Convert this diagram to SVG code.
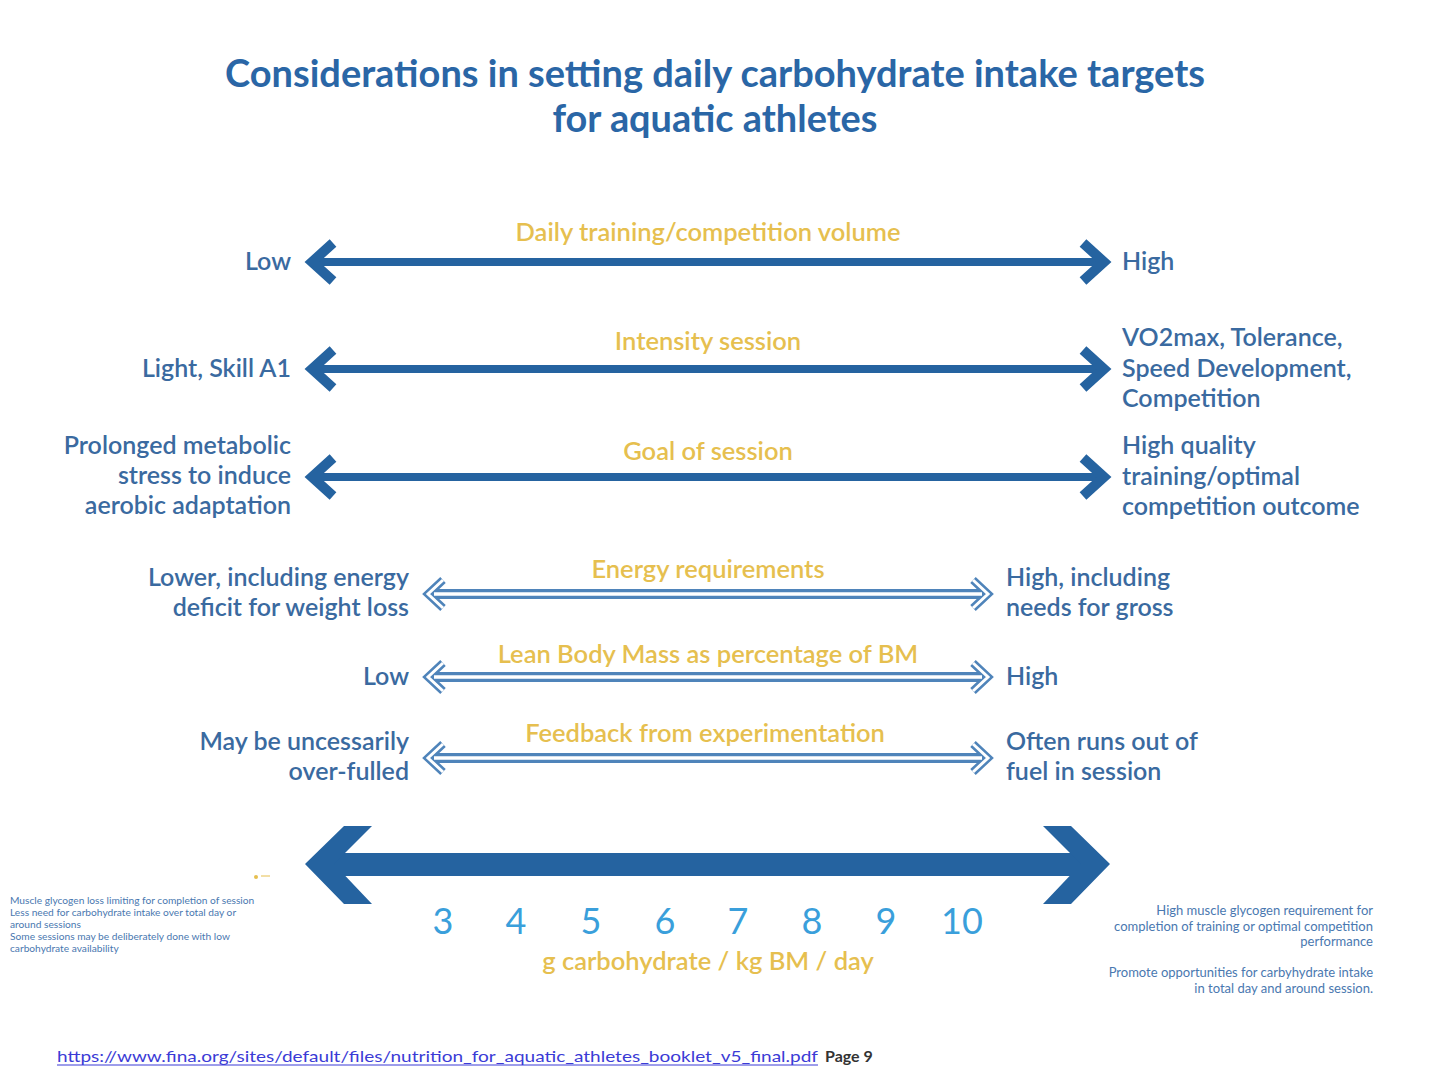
<svg xmlns="http://www.w3.org/2000/svg" width="1440" height="1088" viewBox="0 0 1440 1088">
<defs>
<style>
text{font-family:Lato,"Open Sans","Liberation Sans",sans-serif}
.title{font-size:38px;font-weight:bold;fill:#2a66a6;text-anchor:middle}
.lab{font-size:25.5px;font-weight:600;fill:#e6bf4f;text-anchor:middle}
.side{font-size:25px;font-weight:600;fill:#3a6aa0}
.l{text-anchor:end}
.num{font-size:36px;fill:#3a9fdb;text-anchor:middle}
.small{font-size:10.2px;fill:#4a78b0}
.small2{font-size:13px;fill:#4a78b0;text-anchor:end}
.solid{stroke:#2563a0;fill:none}
.hol{fill:none;stroke:#4f84ba}
.holw{fill:none;stroke:#fff}
</style>
</defs>
<rect width="1440" height="1088" fill="#fff"/>
<g id="title">
<text class="title" x="715" y="87" textLength="980" lengthAdjust="spacingAndGlyphs">Considerations in setting daily carbohydrate intake targets</text>
<text class="title" x="715" y="132" textLength="325" lengthAdjust="spacingAndGlyphs">for aquatic athletes</text>
</g>
<g id="connectors">
<g class="solid">
<line x1="314" y1="262" x2="1102" y2="262" stroke-width="8"/>
<polyline points="333,243 312,262 333,281" stroke-width="10"/>
<polyline points="1083,243 1104,262 1083,281" stroke-width="10"/>
<line x1="314" y1="369" x2="1102" y2="369" stroke-width="8"/>
<polyline points="333,350 312,369 333,388" stroke-width="10"/>
<polyline points="1083,350 1104,369 1083,388" stroke-width="10"/>
<line x1="314" y1="477" x2="1102" y2="477" stroke-width="8"/>
<polyline points="333,458 312,477 333,496" stroke-width="10"/>
<polyline points="1083,458 1104,477 1083,496" stroke-width="10"/>
</g>
<g id="hollow1">
<line class="hol" x1="432" y1="594" x2="984" y2="594" stroke-width="10"/>
<polyline class="hol" points="443,580 428,594 443,608" stroke-width="8"/>
<polyline class="hol" points="973,580 988,594 973,608" stroke-width="8"/>
<line class="holw" x1="434" y1="594" x2="982" y2="594" stroke-width="3.5"/>
<polyline class="holw" points="443,580 428,594 443,608" stroke-width="3"/>
<polyline class="holw" points="973,580 988,594 973,608" stroke-width="3"/>
</g>
<g id="hollow2">
<line class="hol" x1="432" y1="677" x2="984" y2="677" stroke-width="10"/>
<polyline class="hol" points="443,663 428,677 443,691" stroke-width="8"/>
<polyline class="hol" points="973,663 988,677 973,691" stroke-width="8"/>
<line class="holw" x1="434" y1="677" x2="982" y2="677" stroke-width="3.5"/>
<polyline class="holw" points="443,663 428,677 443,691" stroke-width="3"/>
<polyline class="holw" points="973,663 988,677 973,691" stroke-width="3"/>
</g>
<g id="hollow3">
<line class="hol" x1="432" y1="758" x2="984" y2="758" stroke-width="10"/>
<polyline class="hol" points="443,744 428,758 443,772" stroke-width="8"/>
<polyline class="hol" points="973,744 988,758 973,772" stroke-width="8"/>
<line class="holw" x1="434" y1="758" x2="982" y2="758" stroke-width="3.5"/>
<polyline class="holw" points="443,744 428,758 443,772" stroke-width="3"/>
<polyline class="holw" points="973,744 988,758 973,772" stroke-width="3"/>
</g>
<g id="bigarrow" fill="#2563a0">
<rect x="322" y="853" width="772" height="23"/>
<polygon points="305,864 344,826 372,826 334,864 372,904 344,904"/>
<polygon points="1110,864 1071,826 1043,826 1081,864 1043,904 1071,904"/>
</g>
</g>
<g id="labels">
<text class="lab" x="708" y="241">Daily training/competition volume</text>
<text class="lab" x="708" y="350">Intensity session</text>
<text class="lab" x="708" y="460">Goal of session</text>
<text class="lab" x="708" y="578">Energy requirements</text>
<text class="lab" x="708" y="663">Lean Body Mass as percentage of BM</text>
<text class="lab" x="705" y="742">Feedback from experimentation</text>
</g>
<g id="left-labels">
<text class="side l" x="291" y="270">Low</text>
<text class="side l" x="291" y="377">Light, Skill A1</text>
<text class="side l" x="291" y="454">Prolonged metabolic</text>
<text class="side l" x="291" y="484">stress to induce</text>
<text class="side l" x="291" y="514">aerobic adaptation</text>
<text class="side l" x="409" y="586">Lower, including energy</text>
<text class="side l" x="409" y="616">deficit for weight loss</text>
<text class="side l" x="409" y="685">Low</text>
<text class="side l" x="409" y="750">May be uncessarily</text>
<text class="side l" x="409" y="780">over-fulled</text>
</g>
<g id="right-labels">
<text class="side" x="1122" y="270">High</text>
<text class="side" x="1122" y="346">VO2max, Tolerance,</text>
<text class="side" x="1122" y="377">Speed Development,</text>
<text class="side" x="1122" y="407">Competition</text>
<text class="side" x="1122" y="454">High quality</text>
<text class="side" x="1122" y="485">training/optimal</text>
<text class="side" x="1122" y="515">competition outcome</text>
<text class="side" x="1006" y="586">High, including</text>
<text class="side" x="1006" y="616">needs for gross</text>
<text class="side" x="1006" y="685">High</text>
<text class="side" x="1006" y="750">Often runs out of</text>
<text class="side" x="1006" y="780">fuel in session</text>
</g>
<g id="scale">
<text class="num" x="443" y="934">3</text>
<text class="num" x="516" y="934">4</text>
<text class="num" x="591" y="934">5</text>
<text class="num" x="665" y="934">6</text>
<text class="num" x="738" y="934">7</text>
<text class="num" x="812" y="934">8</text>
<text class="num" x="886" y="934">9</text>
<text class="num" x="962" y="934">10</text>
<text class="lab" x="708" y="970">g carbohydrate / kg BM / day</text>
</g>
<g id="left-note">
<circle cx="256" cy="877" r="2" fill="#e6bf4f"/>
<line x1="261" y1="876" x2="270" y2="876" stroke="#e6bf4f" stroke-width="1"/>
<text class="small" x="10" y="904">Muscle glycogen loss limiting for completion of session</text>
<text class="small" x="10" y="916">Less need for carbohydrate intake over total day or</text>
<text class="small" x="10" y="928">around sessions</text>
<text class="small" x="10" y="940">Some sessions may be deliberately done with low</text>
<text class="small" x="10" y="952">carbohydrate availability</text>
</g>
<g id="right-note">
<text class="small2" x="1373" y="915">High muscle glycogen requirement for</text>
<text class="small2" x="1373" y="931">completion of training or optimal competition</text>
<text class="small2" x="1373" y="946">performance</text>
<text class="small2" x="1373" y="977">Promote opportunities for carbyhydrate intake</text>
<text class="small2" x="1373" y="993">in total day and around session.</text>
</g>
<g id="footer">
<text x="57" y="1062" font-size="16" fill="#3b3bd6" textLength="761" lengthAdjust="spacingAndGlyphs">https://www.fina.org/sites/default/files/nutrition_for_aquatic_athletes_booklet_v5_final.pdf</text>
<line x1="57" y1="1065" x2="818" y2="1065" stroke="#3b3bd6" stroke-width="1"/>
<text x="825" y="1062" font-size="16" font-weight="bold" fill="#333">Page 9</text>
</g>
</svg>
